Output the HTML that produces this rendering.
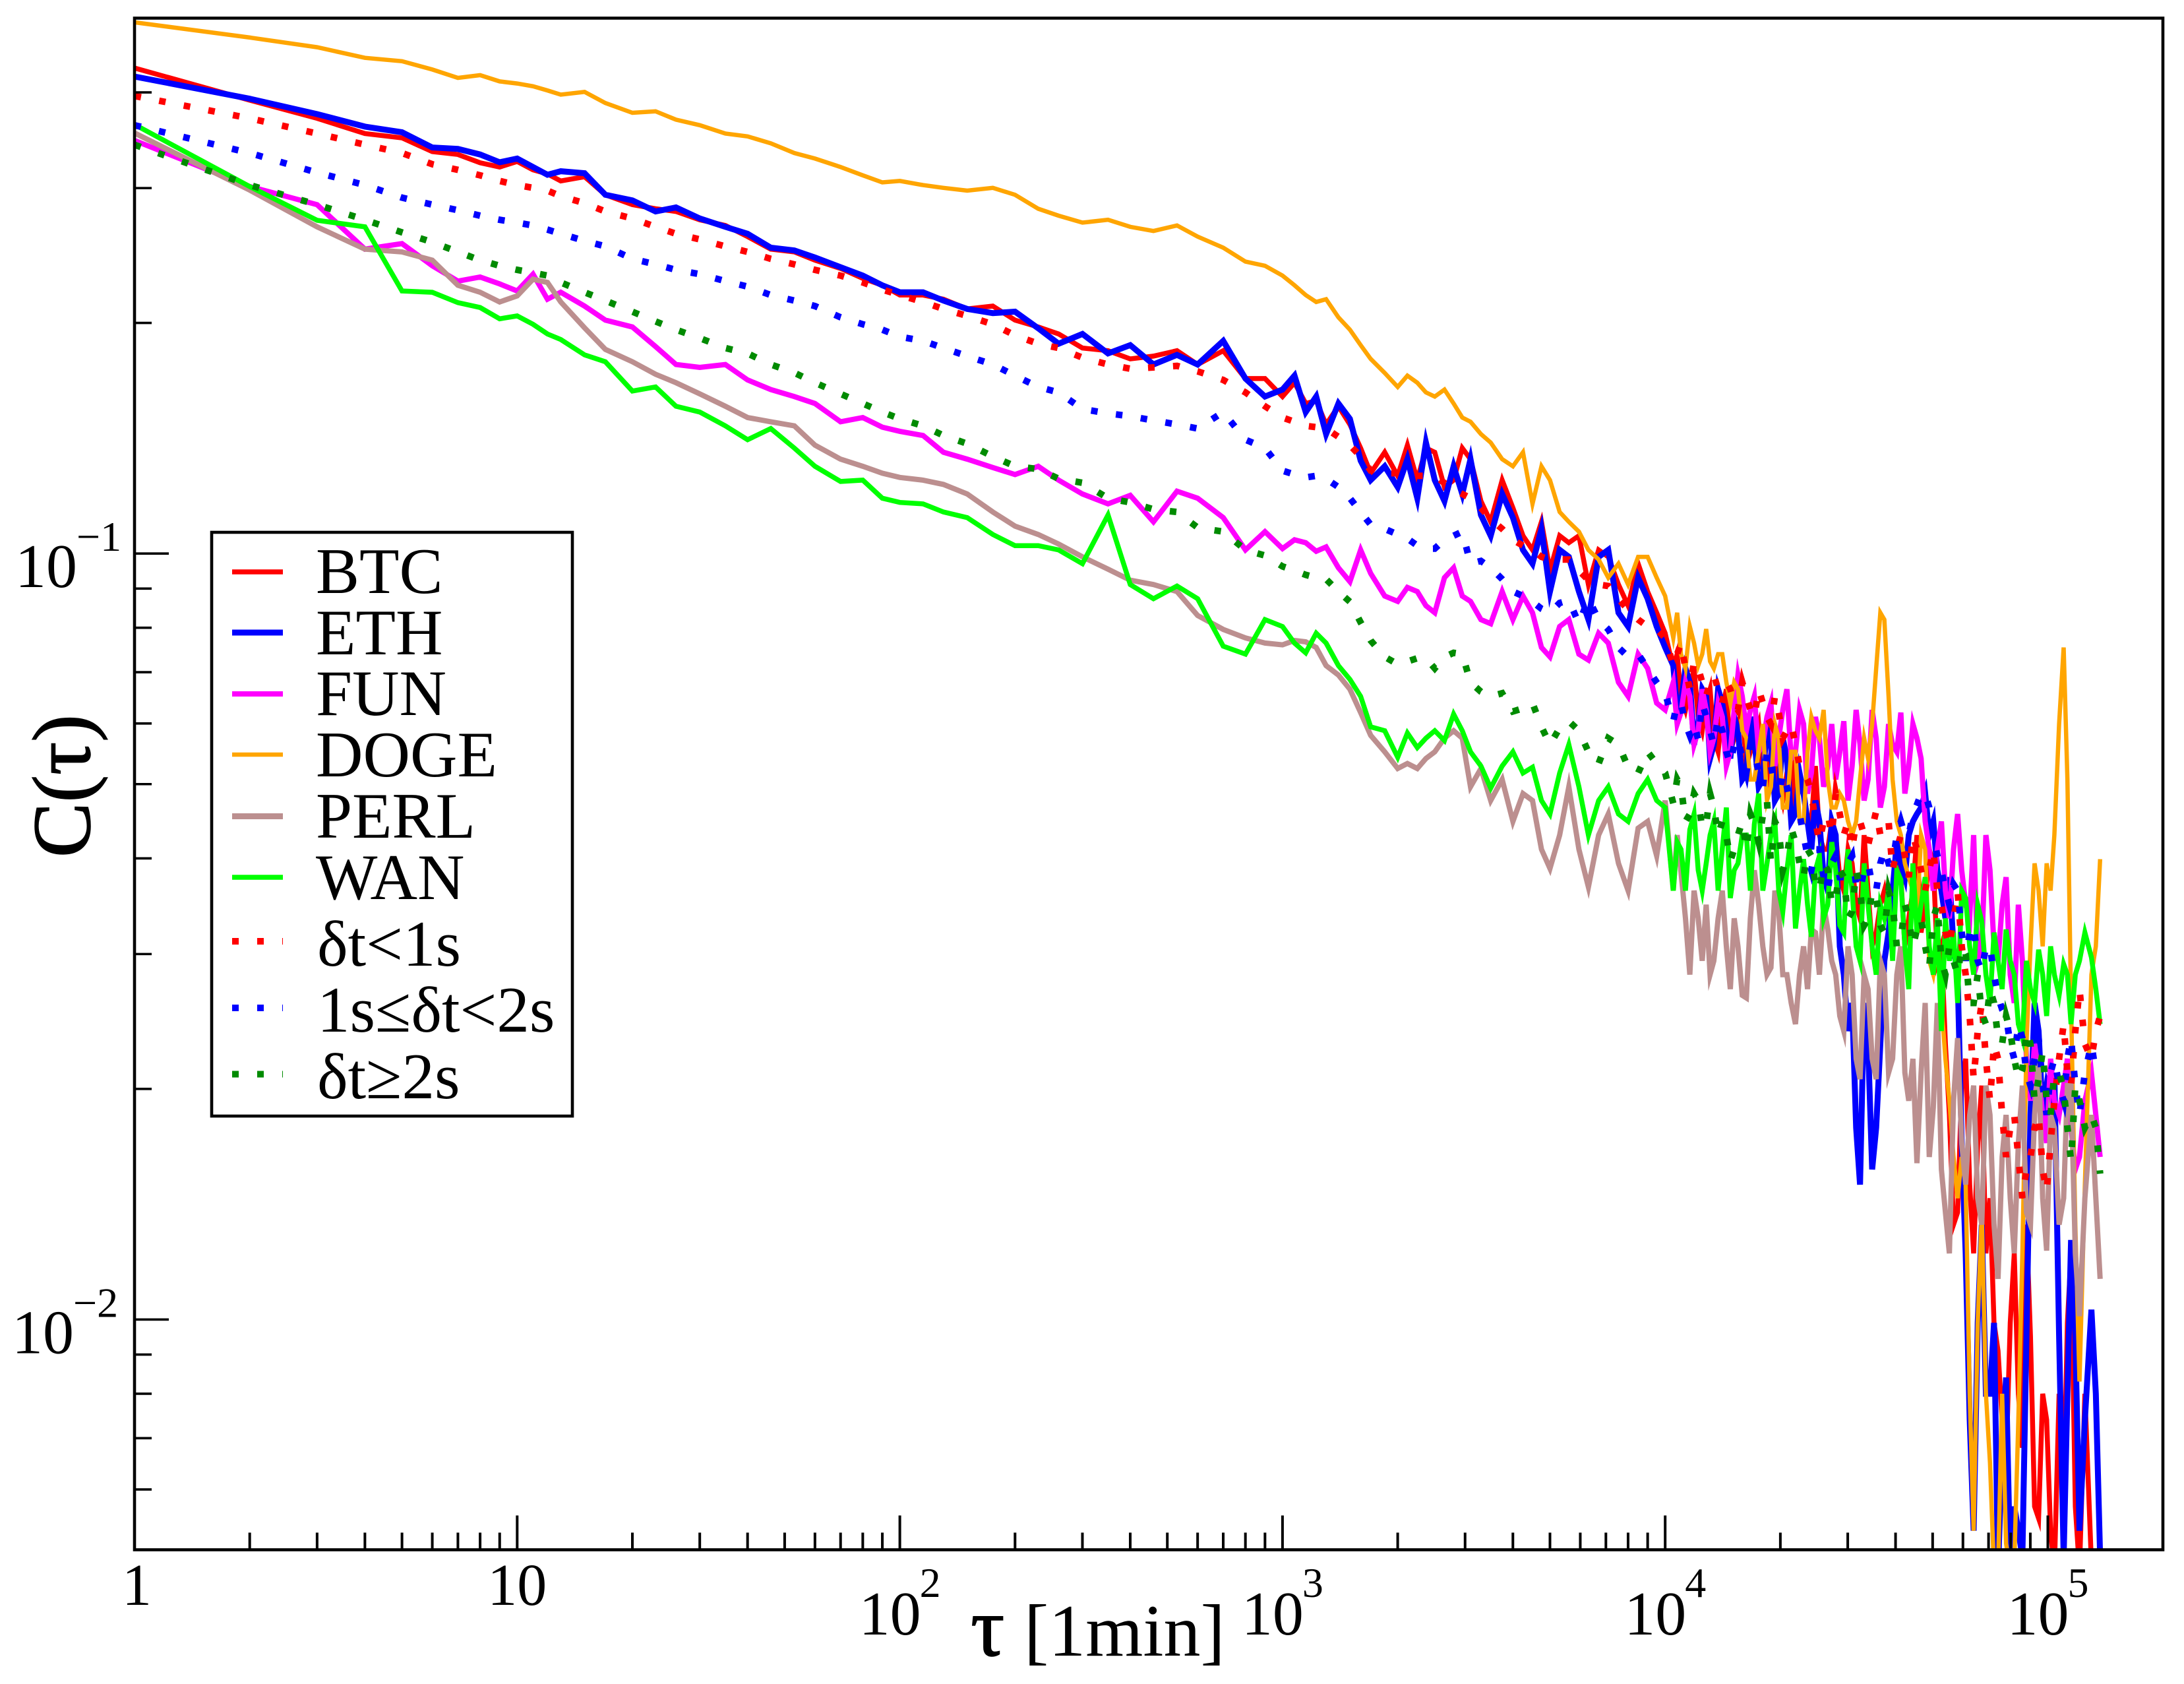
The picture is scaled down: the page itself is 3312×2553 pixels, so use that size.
<!DOCTYPE html>
<html lang="en">
<head>
<meta charset="utf-8">
<title>C(τ) autocorrelation log-log chart</title>
<style>
html,body{margin:0;padding:0;background:#fff;width:3312px;height:2553px;overflow:hidden}
svg{display:block}
text{font-family:"Liberation Serif","DejaVu Serif",serif;fill:#000}
</style>
</head>
<body>
<svg id="chart" xmlns="http://www.w3.org/2000/svg" width="3312" height="2553" viewBox="0 0 3312 2553">
  <defs><clipPath id="plot-clip"><rect x="204" y="27.5" width="3076" height="2322"/></clipPath></defs>
  <rect x="0" y="0" width="3312" height="2553" fill="#fff"/>
  <g id="series-layer" clip-path="url(#plot-clip)"></g>
  <g id="tick-layer"></g>
  <rect x="204" y="27.5" width="3076" height="2322" fill="none" stroke="#000" stroke-width="4.6"/>
  <g id="label-layer"></g>

  <text x="1472" y="2510" font-size="128" stroke="#000" stroke-width="1.5">τ</text>
  <text x="1553" y="2510" font-size="112">[1min]</text>
  <text transform="translate(136 1300) rotate(-90)" font-size="125" stroke="#000" stroke-width="1.5">C(τ)</text>

  <g>
    <rect x="321" y="807" width="547" height="885" fill="#fff" stroke="#000" stroke-width="4.6"/>
    <line x1="352" x2="429" y1="867" y2="867" stroke="#ff0000" stroke-width="7.5"/>
    <line x1="352" x2="429" y1="959" y2="959" stroke="#0000ff" stroke-width="9"/>
    <line x1="352" x2="429" y1="1052" y2="1052" stroke="#ff00ff" stroke-width="8"/>
    <line x1="352" x2="429" y1="1144" y2="1144" stroke="#ffa500" stroke-width="6.5"/>
    <line x1="352" x2="429" y1="1237.5" y2="1237.5" stroke="#bc8f8f" stroke-width="9"/>
    <line x1="352" x2="429" y1="1330" y2="1330" stroke="#00ff00" stroke-width="7.5"/>
    <line x1="352" x2="429" y1="1427" y2="1427" stroke="#ff0000" stroke-width="10" stroke-dasharray="10 28"/>
    <line x1="352" x2="429" y1="1528" y2="1528" stroke="#0000ff" stroke-width="10" stroke-dasharray="10 28"/>
    <line x1="352" x2="429" y1="1628.5" y2="1628.5" stroke="#008b00" stroke-width="10" stroke-dasharray="10 28"/>
    <text x="479" y="899" font-size="99">BTC</text>
    <text x="479" y="992" font-size="99">ETH</text>
    <text x="479" y="1084" font-size="99">FUN</text>
    <text x="479" y="1177" font-size="99">DOGE</text>
    <text x="479" y="1270" font-size="99">PERL</text>
    <text x="479" y="1363" font-size="99">WAN</text>
    <text x="481" y="1464" font-size="99">δt&lt;1s</text>
    <text x="481" y="1564" font-size="99">1s≤δt&lt;2s</text>
    <text x="481" y="1665" font-size="99">δt≥2s</text>
  </g>
</svg>
<script>
const tau = [1,2,3,4,5,6,7,8,9,10,11,12,13,15,17,20,23,26,30,35,40,46,53,60,70,80,90,100,115,130,150,175,200,230,260,300,350,400,460,530,600,700,800,900,1000,
1075,1150,1225,1300,1400,1500,1600,1700,1850,2000,2120,2250,2370,2500,2650,2800,2950,3100,3300,3500,3750,4000,4250,4500,4750,5000,5300,5600,5950,6300,6700,7100,7550,8000,8500,9000,9500,10000,
10500,10750,11000,11300,11600,11900,12200,12500,12800,13100,13400,13750,14100,14450,14800,15150,15500,15900,16300,16700,17100,17550,18000,18450,18900,19350,19800,20300,20800,21350,21900,22450,23000,23550,24100,24700,25300,25950,26600,27250,27900,28600,29300,30050,30800,31550,32300,33100,33900,34750,35600,36500,37400,38350,39300,40300,41300,42300,43300,44400,45500,46650,47800,49000,50200,51450,52700,54000,55300,56700,58100,59550,61000,62500,64000,65600,67200,68900,70600,72350,74100,75950,77800,79750,81700,83750,85800,87950,90100,92350,94600,96950,99300,101700,104000,107000,110000,112500,115000,118000,121000,125000,130000,133500,137000];

const btc = [.4304,.3907,.3700,.3534,.3489,.3347,.3319,.3237,.3196,.3250,.3169,.3130,.3065,.3104,.2940,.2854,.2819,.2796,.2727,.2681,.2593,.2497,.2476,.2415,.2356,.2287,.2240,.2175,.2175,.2148,.2086,.2104,.2017,.1976,.1935,.1855,.1840,.1795,.1810,.1840,.1765,.1840,.1692,.1692,.1603,
.1671,.1570,.1583,.1474,.1557,.1474,.1373,.1273,.1356,.1263,.1385,.1247,.1373,.1356,.1221,.1247,.1373,.1328,.1171,.1100,.1247,.1147,.1055,.1011,.1100,.0950,.1055,.1033,.1055,.0911,.1011,.0990,.0911,.0855,.0970,.0892,.0837,.0787,
.0708,.0739,.0651,.0625,.0665,.0708,.0612,.0587,.0638,.0665,.0574,.0551,.0625,.0665,.0551,.0574,.0599,.0625,.0528,.0551,.0574,.0599,.0517,.0496,.0551,.0574,.0507,.0476,.0517,.0551,.0457,.0507,.0496,.0447,.0447,.0528,.0429,.0411,.0411,.0447,.0429,.0378,.0363,.0411,.0394,.0348,.0334,.0429,.0363,.0307,.0320,.0348,.0363,.0334,.0348,.0394,.0378,.0307,.0334,.0363,.0429,.0320,.0348,.0411,.0394,.0294,.0307,.0229,.0185,.0133,.0138,.0202,.0219,.0150,.0122,.0170,.0202,.0122,.0144,.0099,.0091,.0074,.0065,.0099,.0122,.0080,.0068,.0133,.0095,.0057,.0055,.0080,.0074,.0053,.0047,.0080,.0059,.0099,.0122,.0057,.0047,.0080,.0048,.0047,.0046];

const eth = [.4195,.3924,.3747,.3609,.3548,.3389,.3375,.3319,.3242,.3278,.3196,.3122,.3156,.3137,.2940,.2891,.2796,.2830,.2738,.2670,.2615,.2508,.2487,.2435,.2365,.2306,.2240,.2193,.2193,.2139,.2086,.2060,.2069,.1968,.1879,.1935,.1825,.1871,.1765,.1817,.1765,.1895,.1692,.1603,.1637,
.1707,.1530,.1603,.1432,.1570,.1499,.1322,.1247,.1300,.1221,.1328,.1181,.1396,.1247,.1171,.1300,.1196,.1328,.1123,.1055,.1196,.1114,.1011,.0970,.1077,.0892,.1011,.0990,.0892,.0820,.0990,.1011,.0837,.0803,.0930,.0873,.0803,.0754,
.0714,.0625,.0638,.0708,.0679,.0563,.0599,.0665,.0651,.0540,.0563,.0665,.0638,.0587,.0540,.0612,.0587,.0507,.0517,.0612,.0574,.0496,.0507,.0599,.0563,.0476,.0486,.0574,.0540,.0447,.0457,.0517,.0486,.0447,.0411,.0476,.0447,.0378,.0363,.0447,.0429,.0307,.0282,.0238,.0259,.0178,.0150,.0259,.0229,.0157,.0178,.0229,.0294,.0320,.0363,.0420,.0394,.0378,.0429,.0447,.0457,.0466,.0486,.0429,.0447,.0386,.0363,.0334,.0378,.0307,.0282,.0170,.0122,.0074,.0053,.0099,.0133,.0080,.0080,.0099,.0047,.0068,.0084,.0047,.0057,.0053,.0049,.0095,.0185,.0259,.0238,.0185,.0202,.0193,.0210,.0095,.0049,.0080,.0127,.0095,.0053,.0074,.0103,.0080,.0049];

const fun = [.3461,.3014,.2854,.2497,.2539,.2375,.2268,.2296,.2249,.2202,.2316,.2148,.2193,.2104,.2017,.1976,.1863,.1765,.1750,.1765,.1685,.1637,.1603,.1570,.1486,.1505,.1462,.1444,.1426,.1356,.1328,.1295,.1268,.1300,.1247,.1196,.1161,.1191,.1100,.1206,.1181,.1114,.1011,.1068,.1015,
.1042,.1033,.1007,.1020,.0958,.0919,.1011,.0942,.0880,.0866,.0903,.0892,.0855,.0837,.0930,.0958,.0880,.0866,.0820,.0810,.0892,.0820,.0880,.0837,.0754,.0733,.0803,.0820,.0739,.0726,.0787,.0764,.0679,.0651,.0739,.0708,.0638,.0625,
.0679,.0599,.0620,.0679,.0651,.0563,.0587,.0665,.0625,.0551,.0574,.0638,.0612,.0528,.0551,.0625,.0694,.0651,.0587,.0625,.0651,.0551,.0563,.0612,.0638,.0528,.0574,.0625,.0665,.0540,.0551,.0625,.0599,.0486,.0517,.0612,.0574,.0496,.0528,.0599,.0507,.0551,.0604,.0476,.0528,.0625,.0563,.0476,.0507,.0625,.0574,.0466,.0496,.0599,.0563,.0551,.0620,.0486,.0528,.0599,.0574,.0540,.0447,.0411,.0363,.0411,.0447,.0363,.0334,.0411,.0457,.0386,.0348,.0334,.0429,.0294,.0307,.0429,.0386,.0307,.0294,.0348,.0378,.0282,.0259,.0348,.0294,.0219,.0193,.0229,.0210,.0185,.0170,.0219,.0193,.0185,.0202,.0219,.0178,.0157,.0163,.0193,.0210,.0185,.0163];

const doge = [.4938,.4717,.4581,.4437,.4393,.4284,.4178,.4213,.4134,.4108,.4074,.4023,.3973,.4006,.3874,.3762,.3778,.3685,.3624,.3534,.3504,.3432,.3333,.3278,.3196,.3117,.3052,.3065,.3027,.3002,.2977,.3002,.2940,.2819,.2761,.2704,.2727,.2670,.2637,.2681,.2593,.2508,.2405,.2375,.2306,
.2240,.2175,.2130,.2148,.2034,.1960,.1871,.1795,.1721,.1650,.1707,.1671,.1623,.1603,.1637,.1570,.1505,.1486,.1432,.1396,.1328,.1300,.1356,.1161,.1300,.1247,.1133,.1100,.1068,.1011,.0982,.0930,.0970,.0911,.0990,.0990,.0930,.0880,
.0776,.0837,.0739,.0708,.0803,.0764,.0714,.0739,.0797,.0723,.0708,.0739,.0739,.0679,.0638,.0679,.0665,.0587,.0574,.0507,.0507,.0551,.0599,.0476,.0496,.0599,.0574,.0466,.0466,.0551,.0551,.0447,.0447,.0551,.0612,.0587,.0574,.0625,.0507,.0466,.0466,.0486,.0476,.0447,.0429,.0447,.0507,.0574,.0540,.0599,.0708,.0837,.0820,.0651,.0507,.0447,.0429,.0394,.0378,.0363,.0334,.0429,.0411,.0294,.0282,.0307,.0259,.0219,.0193,.0163,.0144,.0163,.0150,.0080,.0053,.0099,.0138,.0080,.0065,.0047,.0047,.0080,.0051,.0047,.0048,.0074,.0122,.0229,.0307,.0394,.0363,.0307,.0394,.0363,.0429,.0599,.0754,.0507,.0259,.0133,.0083,.0150,.0282,.0307,.0399];

const perl = [.3540,.2982,.2670,.2497,.2476,.2415,.2240,.2193,.2130,.2170,.2281,.2259,.2130,.1971,.1847,.1780,.1714,.1671,.1616,.1557,.1505,.1486,.1468,.1385,.1328,.1300,.1273,.1257,.1247,.1231,.1196,.1133,.1086,.1059,.1029,.0990,.0954,.0923,.0911,.0892,.0830,.0796,.0776,.0764,.0760,
.0770,.0767,.0754,.0714,.0694,.0665,.0620,.0579,.0551,.0524,.0532,.0524,.0540,.0551,.0574,.0587,.0574,.0496,.0524,.0476,.0507,.0447,.0486,.0476,.0411,.0388,.0429,.0496,.0411,.0367,.0429,.0457,.0394,.0363,.0438,.0447,.0403,.0476,
.0363,.0429,.0384,.0334,.0282,.0363,.0334,.0294,.0348,.0282,.0294,.0334,.0363,.0307,.0270,.0334,.0307,.0265,.0263,.0334,.0386,.0348,.0307,.0282,.0288,.0363,.0341,.0282,.0282,.0259,.0243,.0282,.0307,.0270,.0323,.0320,.0282,.0348,.0323,.0294,.0282,.0249,.0238,.0307,.0282,.0219,.0206,.0282,.0270,.0219,.0206,.0294,.0282,.0210,.0219,.0282,.0307,.0210,.0193,.0219,.0160,.0210,.0259,.0163,.0189,.0259,.0157,.0138,.0122,.0193,.0233,.0170,.0150,.0185,.0202,.0144,.0133,.0202,.0185,.0133,.0113,.0163,.0185,.0144,.0122,.0170,.0202,.0138,.0133,.0185,.0219,.0144,.0123,.0185,.0178,.0133,.0144,.0202,.0202,.0122,.0101,.0144,.0185,.0144,.0113];

const wan = [.3631,.3014,.2723,.2670,.2202,.2193,.2126,.2095,.2025,.2043,.1992,.1935,.1903,.1817,.1780,.1630,.1650,.1557,.1530,.1468,.1408,.1456,.1373,.1300,.1242,.1247,.1181,.1166,.1161,.1133,.1114,.1059,.1024,.1024,.1011,.0970,.1123,.0911,.0873,.0907,.0873,.0757,.0739,.0820,.0803,
.0764,.0742,.0787,.0764,.0714,.0685,.0651,.0594,.0587,.0542,.0583,.0558,.0574,.0587,.0570,.0617,.0587,.0551,.0528,.0494,.0528,.0551,.0517,.0526,.0476,.0457,.0517,.0563,.0496,.0429,.0476,.0496,.0457,.0447,.0486,.0507,.0476,.0466,
.0363,.0420,.0411,.0363,.0436,.0457,.0386,.0363,.0394,.0429,.0447,.0363,.0411,.0466,.0355,.0386,.0394,.0429,.0429,.0363,.0443,.0486,.0363,.0394,.0429,.0447,.0363,.0341,.0386,.0429,.0324,.0363,.0399,.0348,.0316,.0386,.0403,.0334,.0348,.0420,.0386,.0327,.0320,.0411,.0363,.0307,.0294,.0394,.0348,.0307,.0282,.0348,.0334,.0363,.0294,.0386,.0375,.0307,.0270,.0394,.0320,.0348,.0378,.0307,.0282,.0334,.0238,.0334,.0294,.0320,.0259,.0363,.0355,.0307,.0282,.0348,.0331,.0282,.0259,.0320,.0294,.0270,.0323,.0294,.0282,.0243,.0233,.0294,.0270,.0259,.0304,.0282,.0249,.0307,.0282,.0265,.0291,.0282,.0243,.0282,.0294,.0320,.0297,.0270,.0243];

const dtUnder1s = [.3957,.3700,.3534,.3418,.3333,.3223,.3169,.3117,.3065,.3027,.3002,.2977,.2928,.2867,.2796,.2738,.2670,.2615,.2571,.2518,.2476,.2425,.2385,.2346,.2306,.2259,.2211,.2175,.2130,.2086,.2043,.1992,.1927,.1879,.1855,.1802,.1765,.1743,.1750,.1758,.1729,.1685,.1623,.1557,.1505,
.1486,.1468,.1462,.1456,.1420,.1385,.1339,.1283,.1273,.1273,.1268,.1263,.1263,.1263,.1236,.1211,.1196,.1181,.1147,.1109,.1077,.1042,.1024,.1011,.0990,.0982,.0982,.0982,.0950,.0923,.0911,.0907,.0873,.0844,.0820,.0803,.0796,.0776,
.0714,.0739,.0764,.0708,.0665,.0723,.0708,.0679,.0651,.0679,.0694,.0665,.0638,.0679,.0665,.0638,.0625,.0679,.0651,.0625,.0612,.0665,.0638,.0612,.0599,.0651,.0620,.0574,.0587,.0599,.0563,.0528,.0517,.0507,.0486,.0447,.0420,.0447,.0457,.0429,.0486,.0457,.0429,.0447,.0411,.0447,.0447,.0429,.0416,.0438,.0461,.0429,.0438,.0447,.0386,.0411,.0429,.0403,.0378,.0429,.0411,.0386,.0363,.0386,.0411,.0363,.0348,.0320,.0307,.0334,.0363,.0307,.0282,.0249,.0206,.0238,.0259,.0219,.0193,.0229,.0219,.0185,.0163,.0178,.0185,.0163,.0144,.0157,.0163,.0178,.0185,.0157,.0147,.0170,.0193,.0219,.0243,.0210,.0202,.0238,.0270,.0229,.0219,.0238,.0249];

const dt1to2s = [.3624,.3333,.3143,.3027,.2915,.2854,.2807,.2761,.2727,.2704,.2681,.2648,.2615,.2560,.2518,.2425,.2385,.2346,.2316,.2268,.2231,.2175,.2139,.2104,.2034,.1992,.1960,.1919,.1895,.1855,.1810,.1765,.1707,.1650,.1623,.1544,.1524,.1511,.1492,.1474,.1456,.1530,.1408,.1373,.1283,
.1268,.1257,.1263,.1252,.1221,.1181,.1133,.1091,.1077,.1059,.1046,.1024,.1015,.1015,.1042,.1055,.1068,.0970,.0978,.0958,.0926,.0892,.0880,.0865,.0847,.0837,.0862,.0869,.0810,.0873,.0820,.0796,.0754,.0733,.0739,.0708,.0679,.0657,
.0604,.0638,.0638,.0599,.0579,.0599,.0572,.0638,.0612,.0587,.0563,.0612,.0587,.0551,.0531,.0563,.0574,.0540,.0517,.0563,.0551,.0517,.0496,.0551,.0528,.0496,.0476,.0517,.0496,.0466,.0447,.0457,.0429,.0403,.0386,.0411,.0411,.0378,.0363,.0394,.0403,.0378,.0378,.0394,.0403,.0370,.0363,.0386,.0394,.0370,.0363,.0394,.0411,.0394,.0394,.0429,.0447,.0429,.0429,.0457,.0470,.0486,.0486,.0466,.0429,.0403,.0386,.0363,.0348,.0370,.0363,.0320,.0294,.0320,.0327,.0294,.0285,.0307,.0307,.0282,.0264,.0254,.0249,.0229,.0219,.0243,.0233,.0210,.0202,.0219,.0233,.0202,.0185,.0210,.0219,.0202,.0193,.0219,.0233,.0202,.0185,.0210,.0229,.0210,.0210];

const dtOver2s = [.3417,.3027,.2854,.2727,.2626,.2550,.2476,.2415,.2375,.2346,.2326,.2306,.2259,.2193,.2139,.2069,.2009,.1960,.1911,.1855,.1825,.1765,.1722,.1671,.1616,.1570,.1530,.1499,.1468,.1426,.1391,.1339,.1300,.1289,.1252,.1237,.1181,.1166,.1142,.1133,.1081,.1068,.1011,.0994,.0962,
.0950,.0938,.0930,.0926,.0892,.0865,.0813,.0770,.0733,.0717,.0723,.0730,.0730,.0708,.0733,.0742,.0739,.0679,.0660,.0651,.0657,.0622,.0628,.0638,.0594,.0563,.0592,.0604,.0587,.0551,.0532,.0574,.0563,.0526,.0517,.0551,.0532,.0517,
.0472,.0507,.0496,.0447,.0457,.0486,.0476,.0438,.0443,.0486,.0466,.0429,.0447,.0429,.0397,.0411,.0429,.0447,.0411,.0457,.0443,.0420,.0455,.0476,.0394,.0447,.0436,.0386,.0403,.0438,.0420,.0394,.0378,.0411,.0403,.0370,.0363,.0394,.0386,.0348,.0355,.0386,.0378,.0334,.0341,.0386,.0363,.0327,.0334,.0363,.0355,.0327,.0320,.0363,.0348,.0307,.0313,.0348,.0334,.0307,.0323,.0334,.0307,.0288,.0334,.0348,.0294,.0282,.0307,.0294,.0282,.0307,.0300,.0259,.0259,.0282,.0251,.0243,.0270,.0259,.0233,.0229,.0249,.0238,.0219,.0206,.0212,.0238,.0229,.0193,.0206,.0224,.0193,.0185,.0210,.0210,.0200,.0178,.0161,.0202,.0193,.0178,.0185,.0178,.0155];

const xMajorTicks = [1,10,100,1000,10000,100000];
const xMinorTicks = [2,3,4,5,6,7,8,9,20,30,40,50,60,70,80,90,200,300,400,500,600,700,800,900,2000,3000,4000,5000,6000,7000,8000,9000,20000,30000,40000,50000,60000,70000,80000,90000];
const yMajorTicks = [0.1,0.01];
const yMinorTicks = [0.4,0.3,0.2,0.09,0.08,0.07,0.06,0.05,0.04,0.03,0.02,0.009,0.008,0.007,0.006];
const xTickBase = ["1","10","10","10","10","10"];
const xTickExp = ["","","2","3","4","5"];
const yTickExp = ["−1","−2"];

const X_LEFT = 204, X_DECADE = 580.3, X_MIN = 1;
const Y_TOP = 27.5, Y_DECADE = 1161.25, Y_MAX = 0.5, Y_BOTTOM = 2349.5;
function xAxis(v){ return X_LEFT + X_DECADE * Math.log10(v / X_MIN); }
function yAxis(v){ return Y_TOP + Y_DECADE * Math.log10(Y_MAX / v); }

const SVG_NS = "http://www.w3.org/2000/svg";
const seriesLayer = document.getElementById("series-layer");
const tickLayer = document.getElementById("tick-layer");
const labelLayer = document.getElementById("label-layer");

function drawSeries(name, values, color, width, dash){
  const line = document.createElementNS(SVG_NS, "polyline");
  
  
  const n = Math.min(tau.length, values.length);
  const pts = [];
  for (let i = 0; i < n; i++) {
    pts.push(xAxis(tau[i]).toFixed(1) + "," + yAxis(values[i]).toFixed(1));
  }
  line.setAttribute("points", pts.join(" "));
  line.setAttribute("fill", "none");
  line.setAttribute("stroke", color);
  line.setAttribute("stroke-width", width);
  line.setAttribute("stroke-linejoin", "miter");
  line.setAttribute("stroke-miterlimit", "7");
  if (dash) line.setAttribute("stroke-dasharray", dash);
  seriesLayer.appendChild(line);
}
drawSeries("series-btc", btc, "#ff0000", 7.5, null);
drawSeries("series-eth", eth, "#0000ff", 9, null);
drawSeries("series-fun", fun, "#ff00ff", 8, null);
drawSeries("series-doge", doge, "#ffa500", 6.5, null);
drawSeries("series-perl", perl, "#bc8f8f", 8, null);
drawSeries("series-wan", wan, "#00ff00", 7.5, null);
drawSeries("series-dt-under-1s", dtUnder1s, "#ff0000", 10, "10 28");
drawSeries("series-dt-1s-2s", dt1to2s, "#0000ff", 10, "10 28");
drawSeries("series-dt-over-2s", dtOver2s, "#008b00", 10, "10 28");

function drawXTick(v, len, name){
  const t = document.createElementNS(SVG_NS, "line");
  
  
  t.setAttribute("x1", xAxis(v)); t.setAttribute("x2", xAxis(v));
  t.setAttribute("y1", Y_BOTTOM); t.setAttribute("y2", Y_BOTTOM - len);
  t.setAttribute("stroke", "#000"); t.setAttribute("stroke-width", "4");
  tickLayer.appendChild(t);
}
function drawYTick(v, len, name){
  const t = document.createElementNS(SVG_NS, "line");
  
  
  t.setAttribute("x1", X_LEFT); t.setAttribute("x2", X_LEFT + len);
  t.setAttribute("y1", yAxis(v)); t.setAttribute("y2", yAxis(v));
  t.setAttribute("stroke", "#000"); t.setAttribute("stroke-width", "3.6");
  tickLayer.appendChild(t);
}
xMajorTicks.forEach(function(v){ drawXTick(v, 52, "x-major-tick"); });
xMinorTicks.forEach(function(v){ drawXTick(v, 26, "x-minor-tick"); });
yMajorTicks.forEach(function(v){ drawYTick(v, 52, "y-major-tick"); });
yMinorTicks.forEach(function(v){ drawYTick(v, 26, "y-minor-tick"); });

function addText(str, x, y, size, name){
  const t = document.createElementNS(SVG_NS, "text");
  
  
  t.setAttribute("x", x); t.setAttribute("y", y);
  t.setAttribute("font-size", size);
  t.textContent = str;
  labelLayer.appendChild(t);
}
xMajorTicks.forEach(function(v, i){
  const px = xAxis(v);
  if (xTickExp[i] === "") {
    const left = xTickBase[i].length === 1 ? px - 19 : px - 45;
    addText(xTickBase[i], left, 2433, 90, "x-tick-label");
  } else {
    addText(xTickBase[i], px - 62, 2478, 94, "x-tick-label");
    addText(xTickExp[i], px + 30, 2421, 64, "x-tick-label-exponent");
  }
});
yMajorTicks.forEach(function(v, i){
  const py = yAxis(v);
  const base = i === 0 ? 23 : 18;
  const sup = i === 0 ? 116 : 111;
  addText("10", base, py + 51, 94, "y-tick-label");
  addText(yTickExp[i], sup, py - 4, 64, "y-tick-label-exponent");
});
</script>
</body>
</html>
